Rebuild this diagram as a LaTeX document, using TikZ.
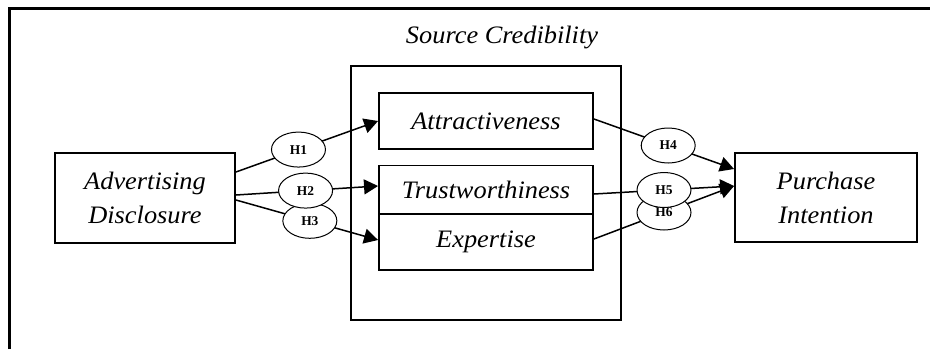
\documentclass[tikz,border=0pt]{standalone}
\usepackage{fontspec}
\setmainfont{Liberation Serif}
\usetikzlibrary{arrows.meta,shapes.geometric}
% slightly widened italic lettering for the construct names
\newcommand{\wtext}[1]{\scalebox{1.05}[1]{#1}}
\begin{document}
\begin{tikzpicture}[x=1bp,y=-1bp,
  construct/.style={draw,line width=1.9bp,inner sep=0pt,align=center,
    font=\fontsize{25.2}{34}\selectfont\itshape},
  hyp/.style={draw,ellipse,fill=white,line width=1bp,minimum width=54bp,
    minimum height=35bp,inner sep=0pt,font=\fontsize{13.5}{14}\selectfont\bfseries},
  link/.style={line width=1.5bp,-{Triangle[length=14bp,width=15bp]}},
  frameline/.style={line width=2.8bp}]
\useasboundingbox (0,0) rectangle (930,349);

% outer frame (top and left edges)
\draw[frameline] (9.5,349) -- (9.5,8.5) -- (930,8.5);

% source credibility group
\node[draw,line width=1.9bp,minimum width=270bp,minimum height=254bp,inner sep=0pt] (sc) at (486,193) {};
\node[font=\fontsize{25.2}{28}\selectfont\itshape] (sclabel) at (502,37) {\wtext{Source Credibility}};

% constructs
\node[construct,minimum width=180bp,minimum height=90bp] (ad) at (145,198)
  {\wtext{Advertising}\\\wtext{Disclosure}};
\node[construct,minimum width=182bp,minimum height=89bp] (pi) at (826,197.5)
  {\wtext{Purchase}\\\wtext{Intention}};
\node[construct,minimum width=214bp,minimum height=56bp] (attr) at (486,121) {\wtext{Attractiveness}};
\node[construct,minimum width=214bp,minimum height=48bp] (trust) at (486,189.5) {\wtext{Trustworthiness}};
\node[construct,minimum width=214bp,minimum height=56bp] (exp) at (486,242) {\wtext{Expertise}};

% hypotheses paths
\draw[link] ([yshift=26bp]ad.east) -- node[hyp,pos=0.44] (h1) {H1} (attr.west);
\draw[link] ([yshift=-2bp]ad.east) -- node[hyp,pos=0.52] (h3) {H3} ([yshift=2bp]exp.west);
\draw[link] ([yshift=3bp]ad.east) -- node[hyp,pos=0.49] (h2) {H2} ([yshift=3.5bp]trust.west);
\draw[link] ([yshift=2bp]attr.east) -- node[hyp,pos=0.53] (h4) {H4} ([yshift=28.5bp]pi.west);
\draw[link] ([yshift=3bp]exp.east) -- node[hyp,pos=0.5] (h6) {H6} ([yshift=11.5bp]pi.west);
\draw[link] ([yshift=-4.5bp]trust.east) -- node[hyp,pos=0.5] (h5) {H5} ([yshift=11.5bp]pi.west);
\end{tikzpicture}
\end{document}
